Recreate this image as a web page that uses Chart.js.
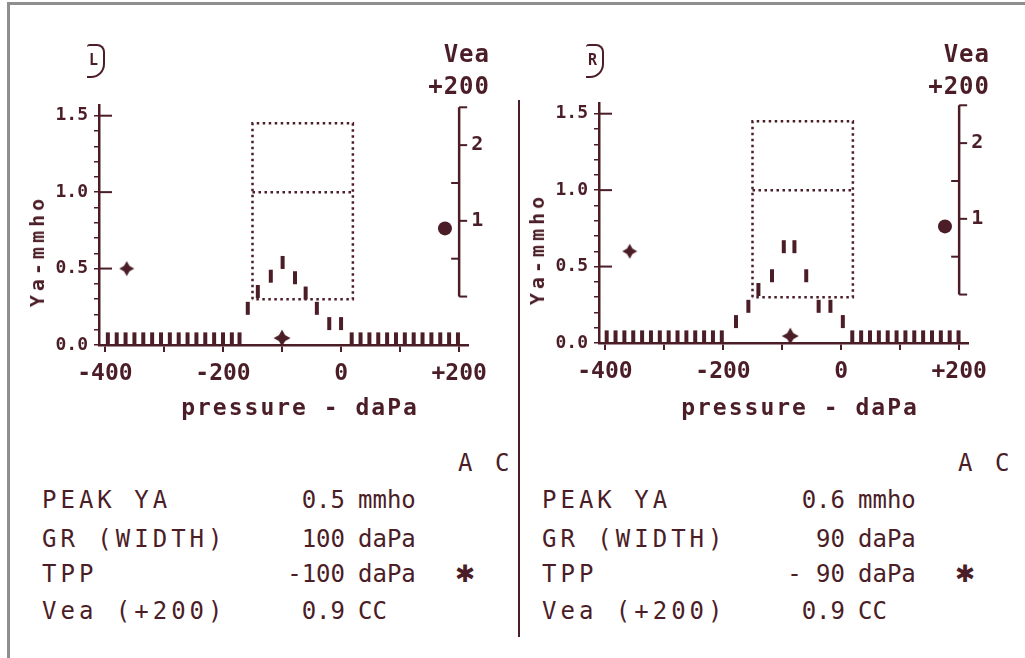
<!DOCTYPE html>
<html lang="en">
<head>
<meta charset="UTF-8">
<title>Tympanogram L / R</title>
<script src="https://cdn.jsdelivr.net/npm/chart.js"></script>
<style>
  body { margin: 0; background: #fff; }
  #page {
    position: relative; width: 1025px; height: 658px; overflow: hidden;
    font-family: 'DejaVu Sans Mono', monospace; color: #4b1d27;
  }
  .frame-top { position: absolute; left: 7px; top: 2px; width: 1018px; height: 3px; background: #8e8e8e; }
  .frame-left { position: absolute; left: 7px; top: 2px; width: 3px; height: 656px; background: #8e8e8e; }
  .divider { position: absolute; left: 518px; top: 100px; width: 2px; height: 537px; background: #4b1d27; }
  canvas { position: absolute; }
  .txt { position: absolute; white-space: pre; line-height: 1; }
  .head { font-size: 24px; font-weight: bold; letter-spacing: 1px; }
  .xtitle { font-size: 23px; font-weight: bold; letter-spacing: 2px; top: 396px; transform: translateX(-50%); }
  .ytitle { font-size: 20px; font-weight: bold; letter-spacing: 4px; transform: translate(-50%, -50%) rotate(-90deg); }
  .ear {
    position: absolute; width: 18px; height: 34px;
    border-top: 2px solid #4b1d27; border-right: 2px solid #4b1d27; border-bottom: 2px solid #4b1d27;
    border-radius: 3px 8px 14px 0;
    font-size: 15px; font-weight: bold; line-height: 1; padding: 7px 0 0 2px; box-sizing: border-box;
  }
  .tbl { font-size: 24px; letter-spacing: 4px; }
  .num { font-size: 24px; letter-spacing: 0; }
</style>
</head>
<body>
<div id="page">
  <div class="frame-top"></div>
  <div class="frame-left"></div>
  <div class="divider"></div>

  <canvas id="earL" width="510" height="440" style="left:0; top:0;"></canvas>
  <canvas id="earR" width="510" height="440" style="left:500px; top:-2px;"></canvas>

  <div class="ear" style="left:87px; top:44px;">L</div>
  <div class="ear" style="left:586px; top:44px;">R</div>

  <div class="txt head" style="right:535px; top:42px;">Vea</div>
  <div class="txt head" style="right:535px; top:74px;">+200</div>
  <div class="txt head" style="right:35px; top:42px;">Vea</div>
  <div class="txt head" style="right:35px; top:74px;">+200</div>

  <div class="txt ytitle" style="left:37px; top:251px;">Ya-mmho</div>
  <div class="txt ytitle" style="left:537px; top:249px;">Ya-mmho</div>
  <div class="txt xtitle" style="left:300px;">pressure - daPa</div>
  <div class="txt xtitle" style="left:800px;">pressure - daPa</div>

  <div id="table"></div>
</div>

<script>
  const INK = '#4b1d27';

  // axis ticks
  const pressureTicks = [-400, -300, -200, -100, 0, 100, 200];
  const pressureLabels = ['-400', '', '-200', '', '0', '', '+200'];
  const yaTicks = [0, 0.1, 0.2, 0.3, 0.4, 0.5, 0.6, 0.7, 0.8, 0.9, 1.0, 1.1, 1.2, 1.3, 1.4, 1.5];
  const yaLabels = ['0.0', '', '', '', '', '0.5', '', '', '', '', '1.0', '', '', '', '', '1.5'];
  const yaMajor = [0.5, 1.0, 1.5];
  const veaTicks = [0, 0.5, 1, 1.5, 2, 2.5];
  const veaLabels = ['', '', '1', '', '2', ''];

  // normal region box (pressure daPa, admittance mmho)
  const boxPressure = [-150, 20];
  const boxYa = [0.3, 1.0, 1.45];

  // left ear
  const leftPressure = [-395, -380, -365, -350, -335, -320, -305, -290, -275, -260, -245, -230, -215, -200, -185, -172,
    -158, -141, -119, -99, -78, -60, -41, -20, 0,
    18, 33, 48, 63, 78, 93, 108, 123, 138, 153, 168, 183, 198];
  const leftYa = [0.04, 0.04, 0.04, 0.04, 0.04, 0.04, 0.04, 0.04, 0.04, 0.04, 0.04, 0.04, 0.04, 0.04, 0.04, 0.04,
    0.24, 0.35, 0.45, 0.54, 0.44, 0.34, 0.24, 0.14, 0.14,
    0.04, 0.04, 0.04, 0.04, 0.04, 0.04, 0.04, 0.04, 0.04, 0.04, 0.04, 0.04, 0.04];
  const leftPeakMark = [-363, 0.5];
  const leftTppMark = [-100, 0.045];
  const leftVeaMark = [176, 0.9];

  // right ear
  const rightPressure = [-397, -382, -367, -352, -337, -322, -307, -292, -277, -262, -247, -232, -217, -202,
    -178, -157, -140, -117, -97, -79, -59, -38, -18, 3,
    19, 34, 49, 64, 79, 94, 109, 124, 139, 154, 169, 184, 199];
  const rightYa = [0.04, 0.04, 0.04, 0.04, 0.04, 0.04, 0.04, 0.04, 0.04, 0.04, 0.04, 0.04, 0.04, 0.04,
    0.14, 0.24, 0.35, 0.44, 0.63, 0.63, 0.44, 0.24, 0.24, 0.14,
    0.04, 0.04, 0.04, 0.04, 0.04, 0.04, 0.04, 0.04, 0.04, 0.04, 0.04, 0.04, 0.04];
  const rightPeakMark = [-358, 0.6];
  const rightTppMark = [-86, 0.045];
  const rightVeaMark = [176, 0.9];

  // results table
  const rowLabels = ['PEAK YA', 'GR (WIDTH)', 'TPP', 'Vea (+200)'];
  const units = ['mmho', 'daPa', 'daPa', 'CC'];
  const leftValues = ['0.5', '100', '-100', '0.9'];
  const rightValues = ['0.6', '90', '- 90', '0.9'];
  const flagRow = 2;

  function makeStar(size) {
    const c = document.createElement('canvas');
    c.width = size; c.height = size;
    const g = c.getContext('2d');
    const m = size / 2, a = size / 2 - 0.5, t = size * 0.17;
    g.fillStyle = INK;
    g.beginPath();
    g.moveTo(m, m - a);
    g.lineTo(m + t, m - t);
    g.lineTo(m + a, m);
    g.lineTo(m + t, m + t);
    g.lineTo(m, m + a);
    g.lineTo(m - t, m + t);
    g.lineTo(m - a, m);
    g.lineTo(m - t, m - t);
    g.closePath();
    g.fill();
    return c;
  }

  // inward major ticks on the Ya axis + the short Vea axis at +200
  const extraAxes = {
    id: 'extraAxes',
    afterDatasetsDraw(chart) {
      const {ctx, scales: {x, y, vea}} = chart;
      ctx.save();
      ctx.strokeStyle = INK;
      ctx.fillStyle = INK;
      ctx.lineWidth = 2;
      yaMajor.forEach(v => {
        const py = y.getPixelForValue(v);
        ctx.beginPath(); ctx.moveTo(x.left, py); ctx.lineTo(x.left + 13, py); ctx.stroke();
      });
      const vx = x.getPixelForValue(200);
      ctx.lineWidth = 2.5;
      ctx.beginPath();
      ctx.moveTo(vx, vea.getPixelForValue(0));
      ctx.lineTo(vx, vea.getPixelForValue(2.5));
      ctx.stroke();
      ctx.lineWidth = 2;
      ctx.font = 'bold 20px "DejaVu Sans Mono"';
      ctx.textBaseline = 'middle';
      veaTicks.forEach((v, i) => {
        const py = vea.getPixelForValue(v);
        const toLeft = v === 0.5 || v === 1.5;
        ctx.beginPath();
        ctx.moveTo(vx, py);
        ctx.lineTo(toLeft ? vx - 8 : vx + 8, py);
        ctx.stroke();
        if (veaLabels[i]) ctx.fillText(veaLabels[i], vx + 12, py);
      });
      ctx.restore();
    }
  };

  function makeChart(id, pressure, ya, peakMark, tppMark, veaMark) {
    const points = pressure.map((p, i) => ({x: p, y: ya[i]}));
    const boxOuter = [
      {x: boxPressure[0], y: boxYa[0]}, {x: boxPressure[0], y: boxYa[2]},
      {x: boxPressure[1], y: boxYa[2]}, {x: boxPressure[1], y: boxYa[0]},
      {x: boxPressure[0], y: boxYa[0]}
    ];
    const boxMid = [{x: boxPressure[0], y: boxYa[1]}, {x: boxPressure[1], y: boxYa[1]}];
    const dotted = {showLine: true, borderColor: INK, borderWidth: 2.5, borderDash: [2.5, 3.5], pointRadius: 0, fill: false};

    return new Chart(document.getElementById(id), {
      type: 'scatter',
      data: {
        datasets: [
          Object.assign({data: boxOuter}, dotted),
          Object.assign({data: boxMid}, dotted),
          {
            data: points,
            pointStyle: 'line',
            rotation: 90,
            radius: 6.5,
            borderWidth: 4,
            borderColor: INK,
            backgroundColor: INK
          },
          {data: [{x: peakMark[0], y: peakMark[1]}], pointStyle: makeStar(16)},
          {data: [{x: tppMark[0], y: tppMark[1]}], pointStyle: makeStar(18)},
          {
            data: [{x: veaMark[0], y: veaMark[1]}],
            yAxisID: 'vea',
            pointStyle: 'circle',
            radius: 7,
            borderWidth: 0,
            backgroundColor: INK
          }
        ]
      },
      options: {
        responsive: false,
        animation: false,
        devicePixelRatio: 1,
        layout: {padding: {top: 105, right: 42, left: 0, bottom: 0}},
        plugins: {legend: {display: false}, tooltip: {enabled: false}},
        scales: {
          x: {
            type: 'linear',
            min: -410,
            max: 215,
            afterBuildTicks: s => { s.ticks = pressureTicks.map(v => ({value: v})); },
            afterFit: s => { s.height = 95; },
            border: {display: true, color: INK, width: 2.5},
            grid: {drawOnChartArea: false, drawTicks: true, tickLength: 7, color: INK, lineWidth: 2},
            ticks: {
              autoSkip: false,
              maxRotation: 0,
              padding: 8,
              color: INK,
              font: {family: 'DejaVu Sans Mono', size: 23, weight: 'bold'},
              callback: (v, i) => pressureLabels[i]
            }
          },
          y: {
            type: 'linear',
            min: 0,
            max: 1.57,
            afterBuildTicks: s => { s.ticks = yaTicks.map(v => ({value: v})); },
            afterFit: s => { s.width = 99; },
            border: {display: true, color: INK, width: 2.5},
            grid: {drawOnChartArea: false, drawTicks: true, tickLength: 5, color: INK, lineWidth: 1.5},
            ticks: {
              autoSkip: false,
              padding: 6,
              color: INK,
              font: {family: 'DejaVu Sans Mono', size: 18, weight: 'bold'},
              callback: (v, i) => yaLabels[i]
            }
          },
          vea: {
            type: 'linear',
            display: false,
            min: -0.64,
            max: 2.53
          }
        }
      },
      plugins: [extraAxes]
    });
  }

  makeChart('earL', leftPressure, leftYa, leftPeakMark, leftTppMark, leftVeaMark);
  makeChart('earR', rightPressure, rightYa, rightPeakMark, rightTppMark, rightVeaMark);

  // results table below each tympanogram
  const rowTops = [488, 527, 562, 599];
  const table = document.getElementById('table');
  let html = '';
  [[0, leftValues], [500, rightValues]].forEach(([dx, values]) => {
    html += `<div class="txt tbl" style="left:${458 + dx}px; top:451px;">A C</div>`;
    rowLabels.forEach((lab, i) => {
      html += `<div class="txt tbl" style="left:${42 + dx}px; top:${rowTops[i]}px;">${lab}</div>`;
      html += `<div class="txt num" style="right:${1025 - 345 - dx}px; top:${rowTops[i]}px;">${values[i]}</div>`;
      html += `<div class="txt num" style="left:${358 + dx}px; top:${rowTops[i]}px;">${units[i]}</div>`;
      if (i === flagRow) {
        html += `<div class="txt tbl" style="left:${455 + dx}px; top:${rowTops[i]}px; font-family:'DejaVu Sans';">&#10033;</div>`;
      }
    });
  });
  table.innerHTML = html;
</script>
</body>
</html>
